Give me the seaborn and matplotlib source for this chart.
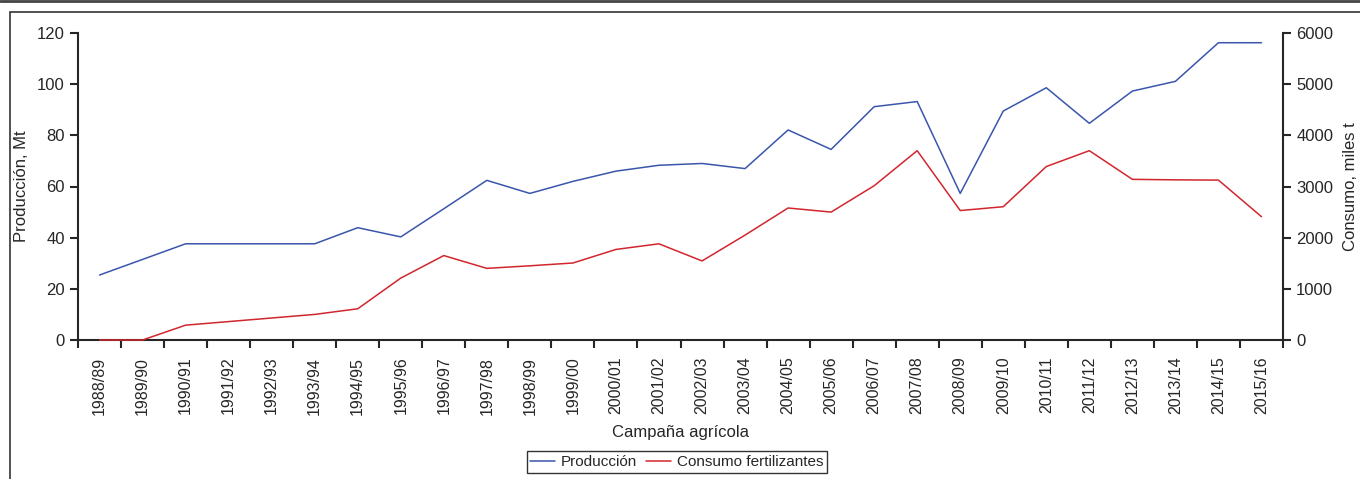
import numpy as np
import pandas as pd
import matplotlib
matplotlib.use("Agg")
import matplotlib.pyplot as plt
from matplotlib.lines import Line2D
from matplotlib.patches import Rectangle
import seaborn as sns

campanas = ['1988/89', '1989/90', '1990/91', '1991/92', '1992/93', '1993/94', '1994/95',
            '1995/96', '1996/97', '1997/98', '1998/99', '1999/00', '2000/01', '2001/02',
            '2002/03', '2003/04', '2004/05', '2005/06', '2006/07', '2007/08', '2008/09',
            '2009/10', '2010/11', '2011/12', '2012/13', '2013/14', '2014/15', '2015/16']
produccion = [25.4, 31.5, 37.6, 37.6, 37.6, 37.6, 43.9, 40.3, 51.3, 62.4, 57.3, 62.0, 66.0, 68.3,
              69.0, 67.0, 82.1, 74.5, 91.2, 93.2, 57.3, 89.5, 98.6, 84.7, 97.3, 101.1, 116.2, 116.2]
consumo = [0, 0, 290, 360, 430, 500, 610, 1210, 1650, 1400, 1450, 1505, 1770, 1880,
           1545, 2050, 2580, 2500, 3015, 3700, 2530, 2605, 3390, 3700, 3140, 3130, 3125, 2410]

azul = '#3a56ac'
rojo = '#d2262e'

sns.set_style("ticks")
plt.rcParams['font.family'] = ['Liberation Sans', 'DejaVu Sans']
plt.rcParams['axes.linewidth'] = 1.5

df = pd.DataFrame({'pos': np.arange(len(campanas)), 'campana': campanas,
                   'produccion': produccion, 'consumo': consumo})

fig = plt.figure(figsize=(13.6, 4.79), dpi=100)
ax = fig.add_axes([78/1360, 1-340/479, (1283-78)/1360, (340-33)/479])
ax2 = ax.twinx()

sns.lineplot(data=df, x='pos', y='produccion', ax=ax, color=azul, lw=1.1, legend=False)
sns.lineplot(data=df, x='pos', y='consumo', ax=ax2, color=rojo, lw=1.1, legend=False,
             zorder=3, clip_on=False)

n = len(campanas)
ax.set_xlim(-0.5, n - 0.5)
ax.set_ylim(0, 120)
ax2.set_ylim(0, 6000)
ax.set_yticks(range(0, 121, 20))
ax2.set_yticks(range(0, 6001, 1000))

# etiquetas centradas, marcas entre campañas
ax.set_xticks(df['pos'])
ax.set_xticklabels(campanas, rotation=90, fontsize=11.5)
ax.set_xticks(np.arange(n + 1) - 0.5, minor=True)
ax.tick_params(axis='x', which='major', length=0, pad=12)
ax.tick_params(axis='x', which='minor', length=6, width=1.5, direction='out')
ax.tick_params(axis='y', length=6, width=1.5, labelsize=12)
ax2.tick_params(axis='y', length=6, width=1.5, labelsize=12)

ax.set_xlabel('Campaña agrícola', fontsize=12, labelpad=7)
ax.set_ylabel('Producción, Mt', fontsize=12, labelpad=6)
ax2.set_ylabel('Consumo, miles t', fontsize=12, labelpad=7)

for a in (ax, ax2):
    a.spines['top'].set_visible(False)
ax2.spines['left'].set_visible(False)
ax2.spines['bottom'].set_visible(False)
ax.spines['right'].set_visible(False)

handles = [Line2D([], [], color=azul, lw=1.1), Line2D([], [], color=rojo, lw=1.1)]
leg = fig.legend(handles, ['Producción', 'Consumo fertilizantes'], loc='center',
                 bbox_to_anchor=(677/1360, 1-462/479), ncol=2, fontsize=11,
                 frameon=True, fancybox=False, handlelength=1.6, handletextpad=0.4,
                 columnspacing=0.6, borderpad=0.25)
leg.get_frame().set_edgecolor('black')
leg.get_frame().set_linewidth(1.0)

# marco de la figura
fig.add_artist(Rectangle((10/1360, -0.1), 1.2, 1.1 - 12/479, transform=fig.transFigure,
                         fill=False, edgecolor='#333333', lw=1.2))
fig.add_artist(Line2D([0, 1], [1 - 1/479, 1 - 1/479], transform=fig.transFigure,
                      color='#444444', lw=2))

fig.savefig('out.png', dpi=100)
